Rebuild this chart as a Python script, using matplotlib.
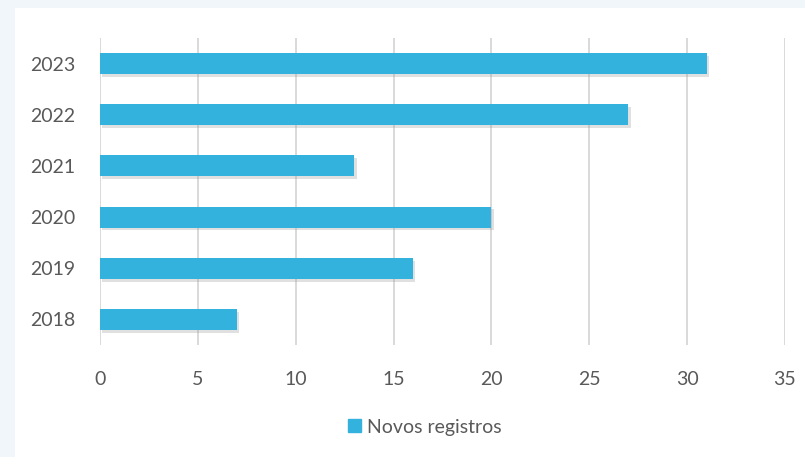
import matplotlib.pyplot as plt
import matplotlib.patheffects as pe
from matplotlib.patches import Rectangle, Patch

# chart data
years = ["2018", "2019", "2020", "2021", "2022", "2023"]
novos_registros = [7, 16, 20, 13, 27, 31]
x_ticks = [0, 5, 10, 15, 20, 25, 30, 35]

plt.rcParams['font.family'] = ['Lato', 'DejaVu Sans']

fig = plt.figure(figsize=(8.05, 4.57), dpi=100)
fig.patch.set_facecolor('#f1f6fa')
# white panel behind the chart
fig.patches.append(Rectangle((15 / 805, 0), 1, 1 - 8 / 457, transform=fig.transFigure,
                             facecolor='white', edgecolor='none', zorder=-5))

ax = fig.add_axes([100 / 805, 1 - 345 / 457, 685 / 805, 307 / 457])
ax.set_facecolor('none')

bars = ax.barh(years, novos_registros, height=0.41, color='#33b2dd', zorder=3)
for b in bars:
    b.set_path_effects([pe.SimplePatchShadow(offset=(1.5, -2), shadow_rgbFace='#999999', alpha=0.3),
                        pe.Normal()])

ax.set_xlim(0, 35)
ax.set_ylim(-0.5, 5.5)
ax.set_xticks(x_ticks)
ax.grid(axis='x', color='#d9d9d9', linewidth=1.4, zorder=0)
for s in ax.spines.values():
    s.set_visible(False)
ax.tick_params(length=0, labelsize=14, colors='#595959')
ax.tick_params(axis='x', pad=19)
ax.tick_params(axis='y', pad=18)

fig.legend(handles=[Patch(color='#33b2dd', label='Novos registros')],
           loc='center', bbox_to_anchor=(425 / 805, 1 - 427 / 457), frameon=False,
           fontsize=14, labelcolor='#595959', handlelength=0.65, handleheight=0.65,
           handletextpad=0.3)

plt.savefig('out.png', dpi=100, facecolor=fig.get_facecolor())
